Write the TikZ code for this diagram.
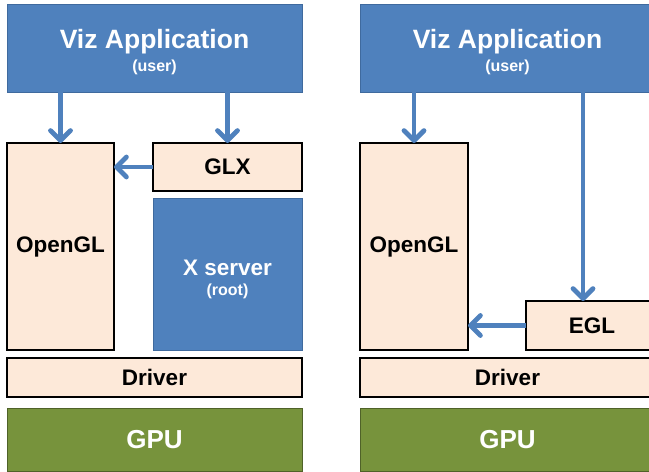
\documentclass[tikz,border=0pt]{standalone}
\usepackage{fontspec}
\setmainfont{Liberation Sans}
\usetikzlibrary{arrows.meta}
\definecolor{vizblue}{HTML}{4F81BD}
\definecolor{vizedge}{HTML}{3F6A9E}
\definecolor{peach}{HTML}{FDE9D9}
\definecolor{gpugreen}{HTML}{77933C}
\definecolor{gpuedge}{HTML}{4F6228}
% #1 top strut, #2 main text, #3 small text
\newcommand{\twoline}[3]{\rule{0pt}{#1}#2\\[-7pt]{\fontsize{16}{16}\selectfont #3}}
\tikzset{
    box/.style n args = {2}{
        minimum width=#1, minimum height=#2, inner sep=0pt, outer sep=0pt,
        align=center, font=\bfseries\fontsize{22.5}{27}\selectfont
    },
    bluebox/.style={fill=vizblue, draw=vizedge, line width=1pt, text=white},
    peachbox/.style={fill=peach, draw=black, line width=1.6pt},
    gpubox/.style={fill=gpugreen, draw=gpuedge, line width=1pt, text=white,
        font=\bfseries\fontsize{26}{30}\selectfont},
    bigfont/.style={font=\bfseries\fontsize{26.5}{30}\selectfont},
    flow/.style={draw=vizblue, line width=4.8pt,
        -{Straight Barb[length=10pt,width=20pt,round]}}
}

\begin{document}
\begin{tikzpicture}[x=1pt, y=-1pt]
    \useasboundingbox (0,0) rectangle (649,472);
    \clip (0,0) rectangle (649,472);

    % left: GLX stack
    \node[box={295pt}{88pt}, bluebox, bigfont] (appL) at (154.5,48) {\twoline{28pt}{Viz Application}{(user)}};
    \node[box={107pt}{207pt}, peachbox] (oglL) at (60.5,246.5) {OpenGL};
    \node[box={149pt}{48pt}, peachbox] (glx) at (227.5,167) {GLX};
    \node[box={149pt}{152pt}, bluebox] (xsrv) at (227.5,274) {\twoline{26pt}{X server}{(root)}};
    \node[box={295pt}{39pt}, peachbox] (drvL) at (154.5,377.5) {Driver};
    \node[box={295pt}{63pt}, gpubox] (gpuL) at (154.5,439.5) {GPU};

    \draw [flow] (appL.south -| oglL.north) -- (oglL.north);
    \draw [flow] (appL.south -| glx.north) -- (glx.north);
    \draw [flow] (glx.west) -- (oglL.east |- glx.west);

    % right: EGL stack
    \node[box={295pt}{88pt}, bluebox, bigfont] (appR) at (507.5,48) {\twoline{28pt}{Viz Application}{(user)}};
    \node[box={108pt}{207pt}, peachbox] (oglR) at (414,246.5) {OpenGL};
    \node[box={132pt}{49pt}, peachbox] (egl) at (592,325.5) {EGL};
    \node[box={295pt}{39pt}, peachbox] (drvR) at (507.5,377.5) {Driver};
    \node[box={295pt}{63pt}, gpubox] (gpuR) at (507.5,439.5) {GPU};
    \coordinate (eglN) at (583,301);

    \draw [flow] (appR.south -| oglR.north) -- (oglR.north);
    \draw [flow] (appR.south -| eglN) -- (eglN);
    \draw [flow] (egl.west) -- (oglR.east |- egl.west);

\end{tikzpicture}
\end{document}
